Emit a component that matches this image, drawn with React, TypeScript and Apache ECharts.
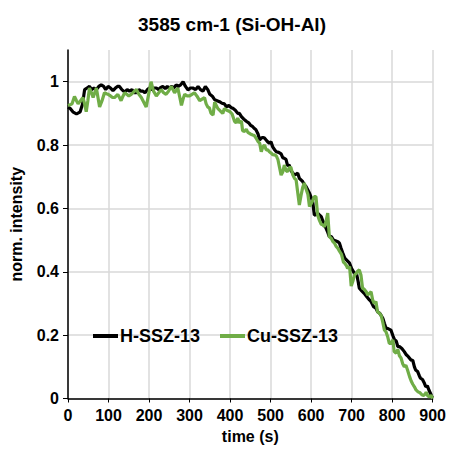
import React, { useEffect, useRef } from "react";
import * as echarts from "echarts";

const titleText = "3585 cm-1 (Si-OH-Al)";
const xAxisName = "time (s)";
const yAxisName = "norm. intensity";
const seriesNames = ["H-SSZ-13", "Cu-SSZ-13"];
const seriesColors = ["#000000", "#70AD47"];

const hSSZ13: [number, number][] = [
  [0, 0.92], [5, 0.916], [12, 0.905], [21, 0.898], [30, 0.905], [36, 0.93], [41, 0.975], [47, 0.98], [53, 0.985], [58, 0.975],
  [64, 0.98], [70, 0.975], [76, 0.985], [82, 0.99], [88, 0.985], [93, 0.975], [99, 0.985], [105, 0.98], [111, 0.972], [117, 0.98],
  [122, 0.985], [127, 0.985], [133, 0.975], [140, 0.967], [146, 0.975], [152, 0.97], [158, 0.975], [163, 0.965], [169, 0.965], [175, 0.975],
  [180, 0.97], [185, 0.97], [190, 0.965], [196, 0.975], [201, 0.98], [207, 0.975], [212, 0.98], [218, 0.98], [224, 0.975], [229, 0.982],
  [234, 0.985], [240, 0.978], [245, 0.985], [250, 0.98], [256, 0.985], [261, 0.98], [267, 0.99], [272, 0.985], [278, 0.99], [284, 1.0],
  [290, 0.985], [296, 0.974], [302, 0.98], [308, 0.98], [315, 0.975], [321, 0.985], [327, 0.975], [333, 0.97], [339, 0.985], [345, 0.975],
  [350, 0.96], [357, 0.953], [362, 0.943], [368, 0.94], [374, 0.937], [380, 0.932], [386, 0.93], [391, 0.921], [397, 0.925], [403, 0.918],
  [407, 0.916], [413, 0.91], [419, 0.9], [423, 0.9], [428, 0.89], [434, 0.882], [440, 0.875], [446, 0.87], [451, 0.862], [456, 0.858],
  [460, 0.852], [464, 0.848], [469, 0.835], [473, 0.816], [477, 0.822], [481, 0.824], [485, 0.822], [489, 0.816], [493, 0.81], [497, 0.806],
  [501, 0.81], [505, 0.795], [510, 0.785], [514, 0.779], [520, 0.777], [526, 0.772], [530, 0.76], [534, 0.758], [538, 0.755], [542, 0.735],
  [546, 0.737], [550, 0.72], [555, 0.711], [559, 0.706], [563, 0.708], [567, 0.711], [571, 0.695], [575, 0.69], [579, 0.685], [584, 0.674],
  [588, 0.668], [592, 0.658], [596, 0.648], [600, 0.635], [604, 0.621], [608, 0.579], [612, 0.58], [616, 0.585], [620, 0.58], [625, 0.574],
  [629, 0.56], [633, 0.55], [637, 0.537], [641, 0.525], [645, 0.511], [650, 0.511], [655, 0.5], [660, 0.498], [666, 0.495], [670, 0.49],
  [674, 0.474], [678, 0.46], [683, 0.443], [689, 0.435], [695, 0.427], [700, 0.41], [707, 0.395], [712, 0.395], [716, 0.37], [719, 0.348],
  [725, 0.34], [731, 0.332], [737, 0.322], [744, 0.311], [748, 0.306], [754, 0.29], [760, 0.285], [764, 0.274], [770, 0.268], [777, 0.253],
  [781, 0.237], [785, 0.222], [791, 0.22], [797, 0.216], [802, 0.198], [806, 0.185], [810, 0.182], [814, 0.164], [818, 0.164], [824, 0.158],
  [830, 0.148], [835, 0.138], [840, 0.132], [846, 0.122], [851, 0.12], [855, 0.1], [858, 0.09], [863, 0.085], [867, 0.072], [870, 0.064],
  [875, 0.06], [879, 0.05], [883, 0.037], [887, 0.04], [891, 0.026], [895, 0.015], [898, 0.006], [900, 0.003],
];

const cuSSZ13: [number, number][] = [
  [0, 0.925], [5, 0.927], [10, 0.93], [16, 0.953], [21, 0.94], [25, 0.93], [31, 0.94], [37, 0.95], [41, 0.93], [45, 0.905],
  [49, 0.94], [53, 0.98], [58, 0.965], [62, 0.95], [66, 0.965], [70, 0.98], [74, 0.95], [78, 0.92], [84, 0.94], [90, 0.965],
  [95, 0.962], [99, 0.96], [105, 0.955], [110, 0.95], [115, 0.95], [119, 0.955], [123, 0.96], [127, 0.95], [131, 0.94], [136, 0.955],
  [140, 0.965], [145, 0.96], [150, 0.955], [156, 0.96], [160, 0.965], [164, 0.97], [169, 0.975], [175, 0.96], [181, 0.95], [187, 0.935],
  [193, 0.92], [199, 0.96], [205, 1.0], [211, 0.97], [218, 0.955], [224, 0.965], [230, 0.975], [236, 0.965], [242, 0.96], [248, 0.97],
  [255, 0.985], [259, 0.975], [263, 0.965], [267, 0.972], [271, 0.98], [276, 0.95], [280, 0.925], [284, 0.945], [288, 0.96], [294, 0.955],
  [300, 0.955], [306, 0.96], [312, 0.965], [318, 0.955], [325, 0.94], [331, 0.945], [337, 0.95], [341, 0.93], [345, 0.92], [349, 0.917],
  [353, 0.9], [358, 0.895], [362, 0.935], [366, 0.925], [370, 0.915], [374, 0.91], [378, 0.905], [382, 0.9], [386, 0.915], [392, 0.91],
  [399, 0.906], [405, 0.898], [411, 0.875], [415, 0.87], [419, 0.885], [423, 0.87], [428, 0.876], [431, 0.845], [436, 0.843], [440, 0.85],
  [444, 0.84], [450, 0.835], [456, 0.832], [460, 0.83], [465, 0.82], [469, 0.811], [473, 0.806], [477, 0.779], [481, 0.795], [485, 0.8],
  [489, 0.785], [493, 0.785], [497, 0.779], [501, 0.775], [505, 0.77], [510, 0.769], [514, 0.766], [518, 0.755], [522, 0.73], [526, 0.705],
  [530, 0.715], [534, 0.737], [538, 0.72], [542, 0.716], [546, 0.728], [550, 0.73], [555, 0.705], [559, 0.695], [563, 0.69], [567, 0.65],
  [571, 0.611], [575, 0.64], [579, 0.665], [583, 0.68], [588, 0.66], [592, 0.645], [596, 0.606], [600, 0.615], [604, 0.625], [608, 0.637],
  [612, 0.637], [616, 0.58], [620, 0.564], [625, 0.55], [629, 0.548], [633, 0.542], [637, 0.56], [641, 0.585], [645, 0.511], [650, 0.505],
  [654, 0.495], [658, 0.49], [662, 0.48], [666, 0.474], [670, 0.465], [675, 0.455], [680, 0.43], [683, 0.427], [687, 0.42], [690, 0.411],
  [695, 0.416], [699, 0.355], [703, 0.37], [707, 0.39], [712, 0.395], [715, 0.402], [719, 0.406], [723, 0.39], [727, 0.348], [731, 0.345],
  [736, 0.337], [740, 0.327], [744, 0.332], [748, 0.337], [752, 0.311], [756, 0.3], [760, 0.306], [764, 0.274], [768, 0.27], [773, 0.262],
  [777, 0.24], [781, 0.216], [785, 0.21], [789, 0.195], [793, 0.174], [797, 0.174], [802, 0.185], [805, 0.148], [810, 0.143], [814, 0.155],
  [818, 0.135], [822, 0.128], [826, 0.11], [830, 0.1], [834, 0.105], [838, 0.09], [843, 0.069], [847, 0.055], [851, 0.045], [855, 0.037],
  [859, 0.027], [864, 0.021], [869, 0.018], [874, 0.011], [878, 0.01], [882, 0.015], [884, 0.02], [888, 0.008], [892, 0.005], [896, 0.01],
  [900, 0],
];

const xMin = 0;
const xMax = 900;
const xStep = 100;
const yMin = 0;
const yMax = 1.1;
const yStep = 0.2;

const FONT = "'Liberation Sans', Arial, sans-serif";

export default function App() {
  const ref = useRef<HTMLDivElement>(null);
  useEffect(() => {
    if (!ref.current) return;
    const chart = echarts.init(ref.current, undefined, { renderer: "svg" });
    const grid = "#d9d9d9";
    chart.setOption({
      animation: false,
      backgroundColor: "#ffffff",
      graphic: [
        {
          type: "text",
          x: 232,
          y: 24,
          style: {
            text: titleText,
            font: `bold 19px ${FONT}`,
            fill: "#000",
            textAlign: "center",
            textVerticalAlign: "middle",
          },
        },
      ],
      grid: { left: 68, right: 16, top: 50, bottom: 51.5, containLabel: false },
      legend: {
        left: 88,
        top: 322,
        itemWidth: 25,
        itemHeight: 4,
        itemGap: 20,
        icon: "rect",
        textStyle: { fontFamily: FONT, fontSize: 18, fontWeight: "bold", color: "#000", padding: [0, 0, 0, -3] },
        data: seriesNames,
      },
      xAxis: {
        type: "value",
        min: xMin,
        max: xMax,
        interval: xStep,
        name: xAxisName,
        nameLocation: "middle",
        nameGap: 30,
        nameTextStyle: { fontFamily: FONT, fontSize: 16, fontWeight: "bold", color: "#000" },
        axisLine: { show: true, lineStyle: { color: "#000", width: 1.5 } },
        axisTick: { show: true, length: 4, lineStyle: { color: "#000", width: 1 } },
        axisLabel: { margin: 9, fontFamily: FONT, fontSize: 16, fontWeight: "bold", color: "#000" },
        splitLine: { show: true, lineStyle: { color: grid, width: 1.5 } },
      },
      yAxis: {
        type: "value",
        min: yMin,
        max: yMax,
        interval: yStep,
        name: yAxisName,
        nameLocation: "middle",
        nameRotate: 90,
        nameGap: 44,
        nameTextStyle: { fontFamily: FONT, fontSize: 16, fontWeight: "bold", color: "#000" },
        axisLine: { show: true, lineStyle: { color: "#000", width: 1.5 } },
        axisTick: { show: true, length: 5, lineStyle: { color: "#000", width: 1 } },
        axisLabel: {
          margin: 9,
          fontFamily: FONT,
          fontSize: 16,
          fontWeight: "bold",
          color: "#000",
          showMaxLabel: false,
          formatter: (v: number) => (v > 1.05 ? "" : String(Math.round(v * 10) / 10)),
        },
        splitLine: {
          show: true,
          lineStyle: { color: [grid, grid, grid, grid, grid, grid, "rgba(0,0,0,0)"], width: 1.5 },
        },
      },
      series: [
        {
          name: seriesNames[0],
          type: "line",
          data: hSSZ13,
          showSymbol: false,
          symbol: "none",
          lineStyle: { color: seriesColors[0], width: 3.2 },
          itemStyle: { color: seriesColors[0] },
          z: 2,
        },
        {
          name: seriesNames[1],
          type: "line",
          data: cuSSZ13,
          showSymbol: false,
          symbol: "none",
          lineStyle: { color: seriesColors[1], width: 3.2 },
          itemStyle: { color: seriesColors[1] },
          z: 3,
        },
      ],
    });
    return () => chart.dispose();
  }, []);
  return <div ref={ref} style={{ width: 449, height: 450, position: "absolute", left: 0, top: 0 }} />;
}
